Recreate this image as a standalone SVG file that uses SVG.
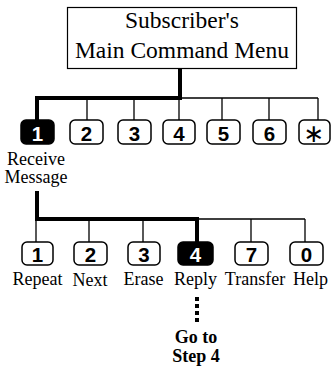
<svg xmlns="http://www.w3.org/2000/svg" width="331" height="368" viewBox="0 0 331 368">
<style>
.box{fill:#fff;stroke:#000;stroke-width:1.2}
.key{fill:#fff;stroke:#000;stroke-width:1.5}
.keyon{fill:#000;stroke:#000;stroke-width:1.5}
.num{font-family:"Liberation Sans",Arial,sans-serif;font-weight:bold;font-size:20.5px;text-anchor:middle;fill:#000}
.numon{font-family:"Liberation Sans",Arial,sans-serif;font-weight:bold;font-size:20.5px;text-anchor:middle;fill:#fff}
.title{font-family:"Liberation Serif","Times New Roman",serif;font-size:23.5px;text-anchor:middle;fill:#000}
.lbl{font-family:"Liberation Serif","Times New Roman",serif;font-size:18px;text-anchor:middle;fill:#000}
.bold{font-family:"Liberation Serif","Times New Roman",serif;font-size:18px;font-weight:bold;text-anchor:middle;fill:#000}
.star{font-family:"DejaVu Sans",sans-serif;font-weight:normal;font-size:25px;text-anchor:middle;fill:#000}
.thin{fill:none;stroke:#000;stroke-width:1.3}
.thick{fill:none;stroke:#000;stroke-width:4;stroke-linejoin:miter;stroke-linecap:square}
.dots{fill:none;stroke:#000;stroke-width:4;stroke-dasharray:4 3}
</style>
<g id="connectors">
  <path class="thin" d="M180 98H318M87 98V120M134 98V120M179 98V120M222 98V120M269 98V120M318 98V120"/>
  <path class="thick" d="M180 69V98H37V119"/>
  <path class="thin" d="M197 219H305M36 219V242M89 219V242M143 219V242M251 219V242M305 219V242"/>
  <path class="thick" d="M37 193V219H197V241"/>
  <path class="dots" d="M197 297V325"/>
</g>
<g id="menu">
  <rect class="box" x="67.5" y="7.5" width="229" height="61"/>
  <text class="title" x="182" y="28">Subscriber's</text>
  <text class="title" x="182" y="58">Main Command Menu</text>
</g>
<g id="k1"><rect class="keyon" x="21" y="120" width="33" height="24" rx="5"/><text class="numon" x="37.5" y="140.5">1</text></g>
<g id="k1lbl"><text class="lbl" x="36" y="164.5">Receive</text><text class="lbl" x="36" y="183">Message</text></g>
<g id="k2"><rect class="key" x="70" y="120" width="33" height="24" rx="5"/><text class="num" x="86.5" y="140.5">2</text></g>
<g id="k3"><rect class="key" x="118" y="120" width="33" height="24" rx="5"/><text class="num" x="134.5" y="140.5">3</text></g>
<g id="k4"><rect class="key" x="163" y="120" width="32" height="24" rx="5"/><text class="num" x="179" y="140.5">4</text></g>
<g id="k5"><rect class="key" x="207" y="120" width="33" height="24" rx="5"/><text class="num" x="223.5" y="140.5">5</text></g>
<g id="k6"><rect class="key" x="253" y="120" width="33" height="24" rx="5"/><text class="num" x="269.5" y="140.5">6</text></g>
<g id="kstar"><rect class="key" x="299" y="120" width="31" height="24" rx="5"/><text class="star" x="314" y="142">∗</text></g>
<g id="r1"><rect class="key" x="22" y="242" width="31" height="23" rx="5"/><text class="num" x="37.5" y="261.5">1</text><text class="lbl" x="37.5" y="285">Repeat</text></g>
<g id="r2"><rect class="key" x="74" y="242" width="33" height="23" rx="5"/><text class="num" x="90.5" y="261.5">2</text><text class="lbl" x="90" y="286">Next</text></g>
<g id="r3"><rect class="key" x="128" y="242" width="32" height="23" rx="5"/><text class="num" x="144" y="261.5">3</text><text class="lbl" x="143.5" y="285">Erase</text></g>
<g id="r4"><rect class="keyon" x="178" y="242" width="35" height="23" rx="5"/><text class="numon" x="195.5" y="261.5">4</text><text class="lbl" x="195.5" y="285">Reply</text></g>
<g id="r7"><rect class="key" x="235" y="242" width="33" height="23" rx="5"/><text class="num" x="251.5" y="261.5">7</text><text class="lbl" x="255" y="285">Transfer</text></g>
<g id="r0"><rect class="key" x="290" y="242" width="33" height="23" rx="5"/><text class="num" x="306.5" y="261.5">0</text><text class="lbl" x="310.5" y="285">Help</text></g>
<g id="goto"><text class="bold" x="196" y="343">Go to</text><text class="bold" x="196" y="362">Step 4</text></g>
</svg>
